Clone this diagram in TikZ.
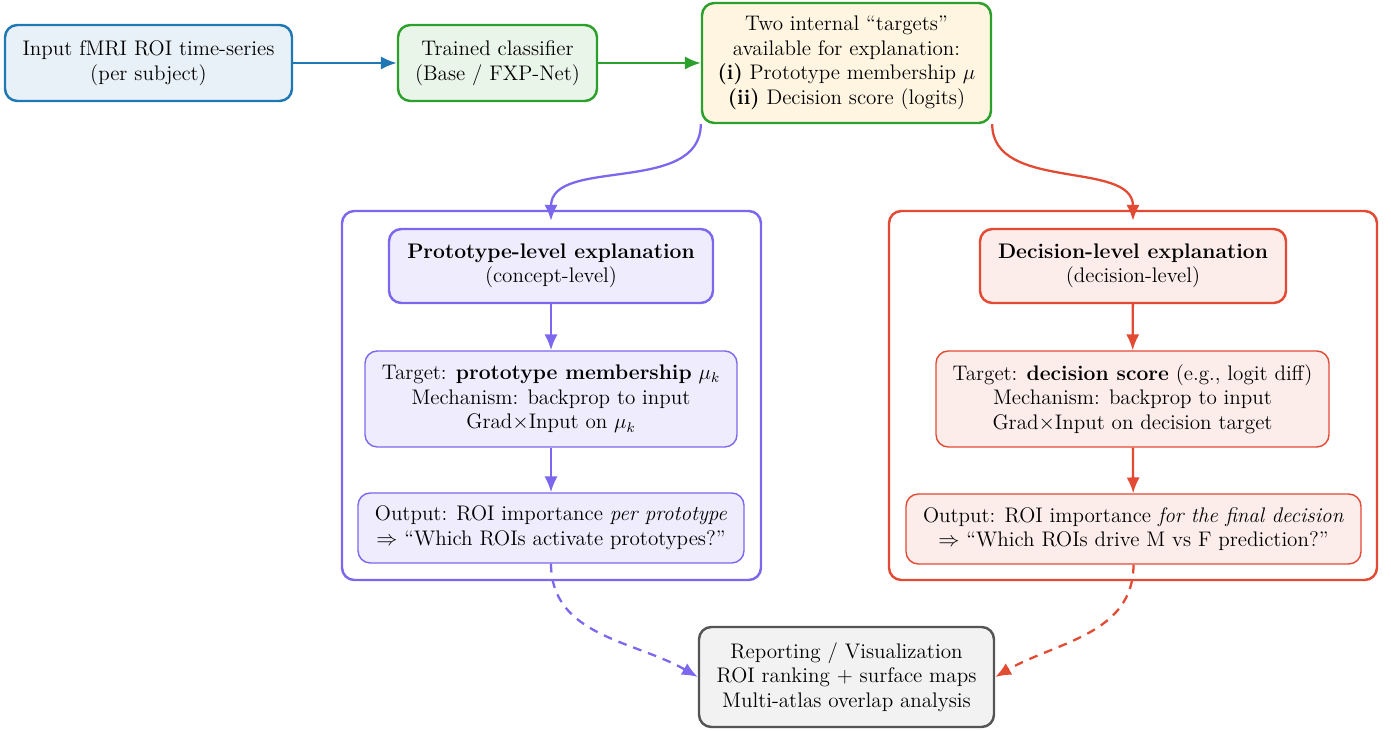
\documentclass[tikz,border=0pt]{standalone}
\usepackage{amsmath}
\usepackage{xcolor}
\usetikzlibrary{arrows.meta,positioning,calc}

\definecolor{cblue}{HTML}{1F77B4}
\definecolor{cgreen}{HTML}{2CA02C}
\definecolor{cpurple}{HTML}{7B68EE}
\definecolor{cred}{HTML}{E24A33}
\definecolor{cgray}{HTML}{555555}
\definecolor{ccream}{HTML}{FFF5E1}

\begin{document}
\begin{tikzpicture}[
    font=\large,
    box/.style={rectangle, rounded corners=7pt, draw, line width=1.4pt, align=center, inner sep=2pt},
    subbox/.style={rectangle, rounded corners=7pt, draw, line width=0.8pt, align=center, inner sep=2pt},
    group/.style={rectangle, rounded corners=7pt, draw, line width=1.4pt},
    flow/.style={line width=1.3pt, -{Latex[length=9pt,width=7.5pt]}},
    dflow/.style={flow, dashed, dash pattern=on 5pt off 4pt}
  ]
    \useasboundingbox (0,0) rectangle (27.82,-14.62);

    % Explanation branches (drawn first, behind the boxes)
    \node[group, draw=cpurple, minimum width=8.38cm, minimum height=7.38cm] (protogroup) at (11.03,-7.91) {};
    \node[group, draw=cred, minimum width=9.76cm, minimum height=7.38cm] (decgroup) at (22.66,-7.91) {};

    % Top row
    \node[box, draw=cblue, fill=cblue!10, minimum width=5.74cm, minimum height=1.52cm] (input) at (2.97,-1.26)
        {Input fMRI ROI time-series\\(per subject)};
    \node[box, draw=cgreen, fill=cgreen!10, minimum width=3.98cm, minimum height=1.52cm] (clf) at (9.95,-1.26)
        {Trained classifier\\(Base / FXP-Net)};
    \node[box, draw=cgreen, fill=ccream, minimum width=5.78cm, minimum height=2.40cm] (targets) at (16.93,-1.26)
        {Two internal ``targets''\\available for explanation:\\\textbf{(i)} Prototype membership $\mu$\\\textbf{(ii)} Decision score (logits)};

    % Prototype branch
    \node[box, draw=cpurple, fill=cpurple!12, minimum width=6.48cm, minimum height=1.48cm] (protohead) at (11.02,-5.32)
        {\textbf{Prototype-level explanation}\\(concept-level)};
    \node[subbox, draw=cpurple, fill=cpurple!12, minimum width=7.44cm, minimum height=1.92cm] (prototarget) at (11.02,-7.98)
        {Target: \textbf{prototype membership} $\mu_k$\\Mechanism: backprop to input\\Grad{$\times$}Input on $\mu_k$};
    \node[subbox, draw=cpurple, fill=cpurple!12, minimum width=7.72cm, minimum height=1.40cm] (protoout) at (11.02,-10.56)
        {Output: ROI importance \textit{per prototype}\\$\Rightarrow$ ``Which ROIs activate prototypes?''};

    % Decision branch
    \node[box, draw=cred, fill=cred!10, minimum width=6.12cm, minimum height=1.48cm] (dechead) at (22.66,-5.32)
        {\textbf{Decision-level explanation}\\(decision-level)};
    \node[subbox, draw=cred, fill=cred!10, minimum width=7.86cm, minimum height=1.92cm] (dectarget) at (22.65,-7.98)
        {Target: \textbf{decision score} (e.g., logit diff)\\Mechanism: backprop to input\\Grad{$\times$}Input on decision target};
    \node[subbox, draw=cred, fill=cred!10, minimum width=9.10cm, minimum height=1.40cm] (decout) at (22.67,-10.58)
        {Output: ROI importance \textit{for the final decision}\\$\Rightarrow$ ``Which ROIs drive M vs F prediction?''};

    % Reporting
    \node[box, draw=cgray, fill=black!5, minimum width=5.90cm, minimum height=2.00cm] (report) at (16.93,-13.54)
        {Reporting / Visualization\\ROI ranking + surface maps\\Multi-atlas overlap analysis};

    % Connectors
    \draw[flow, cblue] (input) -- (clf);
    \draw[flow, cgreen] (clf) -- (targets);
    \draw[flow, cpurple, shorten >=4pt] (targets.south west) to[out=-90, in=90] (protohead.north);
    \draw[flow, cred, shorten >=4pt] (targets.south east) to[out=-90, in=90] (dechead.north);
    \draw[flow, cpurple] (protohead) -- (prototarget);
    \draw[flow, cpurple] (prototarget) -- (protoout);
    \draw[flow, cred] (dechead) -- (dectarget);
    \draw[flow, cred] (dectarget) -- (decout);
    \draw[dflow, cpurple] (protoout.south) to[out=-90, in=150] (report.west);
    \draw[dflow, cred] (decout.south) to[out=-90, in=30] (report.east);
\end{tikzpicture}
\end{document}
